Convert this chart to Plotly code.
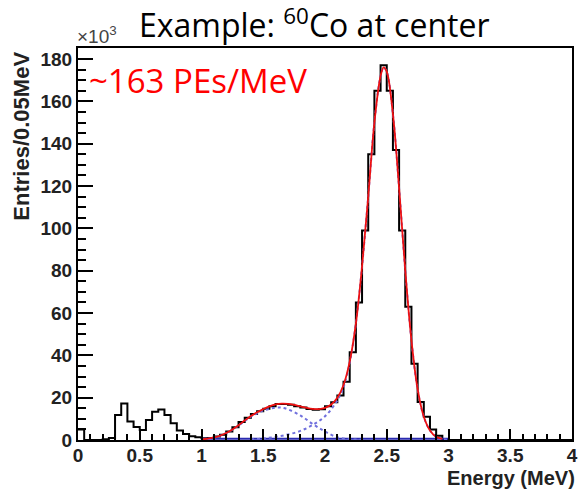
import plotly.graph_objects as go

# ---------------- data (counts in units of 10^3 entries / 0.05 MeV) ----------------
bin_width = 0.05
counts = [
    5.0, 0.0, 0.0, 0.0, 0.3, 1.0, 11.8, 17.3, 8.7, 6.2,      # 0.00 - 0.45
    4.7, 9.4, 13.4, 14.4, 11.8, 7.9, 4.5, 2.8, 1.8, 1.3,     # 0.50 - 0.95
    0.8, 1.0, 1.6, 2.5, 4.0, 6.0, 8.5, 10.5, 12.3, 13.6,     # 1.00 - 1.45
    14.8, 16.0, 17.0, 17.0, 16.6, 16.0, 15.3, 14.7, 14.3, 14.5,  # 1.50 - 1.95
    16.0, 17.8, 21.0, 27.5, 41.5, 65.0, 99.0, 135.0, 165.0, 177.0,  # 2.00 - 2.45
    165.0, 137.0, 99.0, 63.0, 36.0, 18.0, 11.0, 5.0, 2.0, 0.5,      # 2.50 - 2.95
    0, 0, 0, 0, 0, 0, 0, 0, 0, 0,
    0, 0, 0, 0, 0, 0, 0, 0, 0, 0,
]

fit_total_x = [1.00, 1.05, 1.10, 1.15, 1.20, 1.25, 1.30, 1.35, 1.40, 1.45, 1.50, 1.55, 1.60,
               1.65, 1.70, 1.75, 1.80, 1.85, 1.90, 1.95, 2.00, 2.05, 2.10, 2.15, 2.20, 2.25,
               2.30, 2.35, 2.40, 2.45, 2.475, 2.50, 2.55, 2.60, 2.65, 2.70, 2.75, 2.80, 2.85,
               2.90, 2.95]
fit_total_y = [0.3, 0.6, 1.2, 2.0, 3.3, 5.0, 7.0, 9.2, 11.3, 13.1, 14.6, 15.9, 16.8,
               17.2, 17.1, 16.6, 15.9, 15.2, 14.7, 14.6, 15.2, 16.8, 20.0, 26.0, 37.0, 55.0,
               82.0, 115.0, 150.0, 172.0, 176.0, 174.0, 154.0, 119.0, 80.0, 47.0, 24.0, 11.0, 4.5,
               1.5, 0.5]

compA_x = [1.00, 1.10, 1.20, 1.30, 1.40, 1.50, 1.60, 1.65, 1.70, 1.80, 1.90, 2.00, 2.10, 2.20, 2.30]
compA_y = [0.2, 1.0, 3.2, 6.8, 11.0, 13.9, 15.3, 15.3, 14.5, 11.6, 7.6, 4.0, 1.3, 0.4, 0.1]

compB_x = [1.40, 1.50, 1.60, 1.70, 1.80, 1.90, 2.00, 2.10, 2.15, 2.20, 2.25, 2.30, 2.35, 2.40,
           2.45, 2.475, 2.50, 2.55, 2.60, 2.65, 2.70, 2.75, 2.80, 2.85, 2.90, 2.95, 3.00]
compB_y = [0.2, 0.7, 1.5, 2.6, 4.3, 7.1, 11.2, 18.7, 25.0, 36.5, 55.0, 82.0, 115.0, 150.0,
           172.0, 176.0, 174.0, 154.0, 119.0, 80.0, 47.0, 24.0, 11.0, 4.5, 1.5, 0.5, 0.1]

bg_x = [1.0, 3.0]
bg_y = [0.6, 0.6]

x_ticks = [0, 0.5, 1, 1.5, 2, 2.5, 3, 3.5, 4]
x_ticklabels = ["0", "0.5", "1", "1.5", "2", "2.5", "3", "3.5", "4"]
y_ticks = [0, 20, 40, 60, 80, 100, 120, 140, 160, 180]
y_ticklabels = [str(v) for v in y_ticks]

# ---------------- layout constants ----------------
W, H = 584, 489
L, R, T, B = 78, 6, 48, 49
PW, PH = W - L - R, H - T - B


def px_x(p):
    return (p - L) / PW


def px_y(p):
    return (H - B - p) / PH


# histogram outline as step line
edges = [round(i * bin_width, 4) for i in range(len(counts) + 1)]
hx = edges
hy = counts + [counts[-1]]

fig = go.Figure()
fig.add_trace(go.Scatter(x=hx, y=hy, mode="lines", line=dict(shape="hv", color="black", width=2),
                         hoverinfo="skip", showlegend=False))
fig.add_trace(go.Scatter(x=bg_x, y=bg_y, mode="lines", line=dict(color="#2a2ab0", width=2),
                         showlegend=False))
fig.add_trace(go.Scatter(x=compA_x, y=compA_y, mode="lines",
                         line=dict(shape="spline", color="#7070dd", width=2, dash="dot"),
                         showlegend=False))
fig.add_trace(go.Scatter(x=compB_x, y=compB_y, mode="lines",
                         line=dict(shape="spline", color="#7070dd", width=2, dash="dot"),
                         showlegend=False))
fig.add_trace(go.Scatter(x=fit_total_x, y=fit_total_y, mode="lines",
                         line=dict(shape="spline", color="#ee1111", width=1.8),
                         showlegend=False))

tickfont = dict(family="Liberation Sans", size=19, color="#222222", weight="bold")

fig.update_xaxes(range=[0, 4], tickvals=x_ticks, ticktext=x_ticklabels,
                 showline=True, linecolor="black", linewidth=2, mirror=True,
                 ticks="inside", ticklen=11, tickwidth=2, tickcolor="black",
                 minor=dict(dtick=0.1, ticks="inside", ticklen=6, tickwidth=2, tickcolor="black"),
                 showgrid=False, zeroline=False, tickfont=tickfont, ticklabelstandoff=-3)
fig.update_yaxes(range=[0, 185.2], tickvals=y_ticks, ticktext=y_ticklabels,
                 showline=True, linecolor="black", linewidth=2, mirror=True,
                 ticks="inside", ticklen=15, tickwidth=2, tickcolor="black",
                 minor=dict(dtick=5, ticks="inside", ticklen=8, tickwidth=2, tickcolor="black"),
                 showgrid=False, zeroline=False, tickfont=tickfont)

annotations = [
    dict(text="Example: <sup>60</sup>Co at center", x=px_x(317), y=px_y(23),
         font=dict(family="Open Sans", size=32, color="black")),
    dict(text="~163 PEs/MeV", x=px_x(87), y=px_y(81), xanchor="left",
         font=dict(family="Open Sans", size=33, color="#ff0000")),
    dict(text="×10<sup>3</sup>", x=px_x(75), y=px_y(35), xanchor="left",
         font=dict(family="Liberation Sans", size=19, color="#444444")),
    dict(text="Entries/0.05MeV", x=px_x(20), y=px_y(136), textangle=-90,
         font=dict(family="Liberation Sans", size=22, color="#222222", weight="bold")),
    dict(text="Energy (MeV)", x=px_x(583), y=px_y(478), xanchor="right",
         font=dict(family="Liberation Sans", size=20, color="#222222", weight="bold")),
]
for a in annotations:
    a.update(xref="paper", yref="paper", showarrow=False)
    a.setdefault("xanchor", "center")
    a.setdefault("yanchor", "middle")

fig.update_layout(width=W, height=H, margin=dict(l=L, r=R, t=T, b=B),
                  paper_bgcolor="white", plot_bgcolor="white",
                  annotations=annotations, showlegend=False)

fig.write_html("out.html")
